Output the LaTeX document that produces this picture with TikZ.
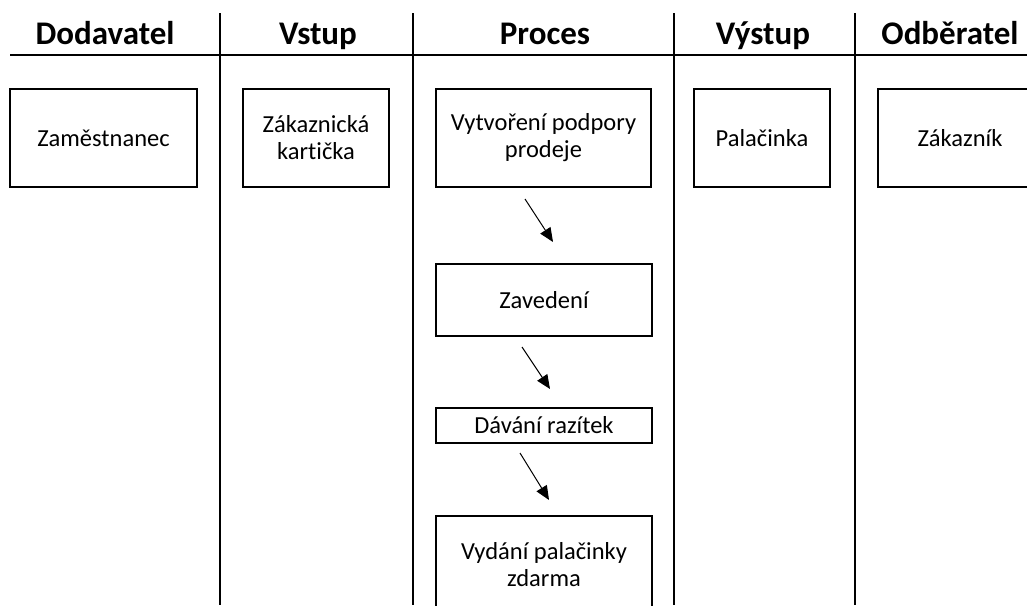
\documentclass[tikz,border=0pt]{standalone}
\usepackage{fontspec}
\setmainfont{Carlito}[Ligatures=NoCommon]
\usetikzlibrary{arrows.meta, positioning}

\begin{document}
\begin{tikzpicture}[
    x=1pt, y=-1pt,
    box/.style={draw, line width=1.2pt, inner sep=0pt, align=center,
      font=\fontsize{24.5}{27}\selectfont},
    head/.style={anchor=base, font=\fontsize{33}{36}\selectfont\bfseries},
    lane/.style={line width=1.2pt},
    arrow/.style={-{Triangle[length=14pt, width=12pt]}, line width=1pt},
  ]
  \useasboundingbox (0,0) rectangle (1027,605);
  \clip (0,0) rectangle (1027,605);

  % Lane borders
  \coordinate (hl) at (10,55);
  \coordinate (hr) at (1027,55);
  \draw[lane] (hl) -- (hr);
  \foreach \lx in {220, 413, 674, 855}
    \draw[lane] (\lx,13) -- (\lx,605);

  % Headers
  \node[head] (hDod) at (105,44) {Dodavatel};
  \node[head] (hVst) at (318,44) {Vstup};
  \node[head] (hPro) at (545,44) {Proces};
  \node[head] (hVys) at (763,44) {Výstup};
  \node[head] (hOdb) at (950,44) {Odběratel};

  % First row
  \node[box, minimum width=187pt, minimum height=98pt] (zam) at (103.5,138) {Zaměstnanec};
  \node[box, minimum width=146pt, minimum height=98pt] (kart) at (316,138) {Zákaznická\\kartička};
  \node[box, minimum width=215pt, minimum height=98pt] (podp) at (543.5,138) {Vytvoření podpory\\prodeje};
  \node[box, minimum width=136pt, minimum height=98pt] (pal) at (762,138) {Palačinka};
  \node[box, minimum width=164pt, minimum height=98pt] (zak) at (960,138) {Zákazník};

  % Process steps
  \node[box, minimum width=216pt, minimum height=72pt] (zav) at (544,300) {Zavedení};
  \node[box, minimum width=216pt, minimum height=35pt] (raz) at (544,425.5) {Dávání razítek};
  \node[box, minimum width=216pt, minimum height=98pt] (vyd) at (544,565) {Vydání palačinky\\zdarma};

  % Arrows between steps
  \coordinate (a1s) at (525,199);
  \coordinate (a1e) at (553,242);
  \coordinate (a2s) at (522,347);
  \coordinate (a2e) at (550,389);
  \coordinate (a3s) at (520,453);
  \coordinate (a3e) at (549,500);
  \draw[arrow] (a1s) -- (a1e);
  \draw[arrow] (a2s) -- (a2e);
  \draw[arrow] (a3s) -- (a3e);
\end{tikzpicture}
\end{document}
